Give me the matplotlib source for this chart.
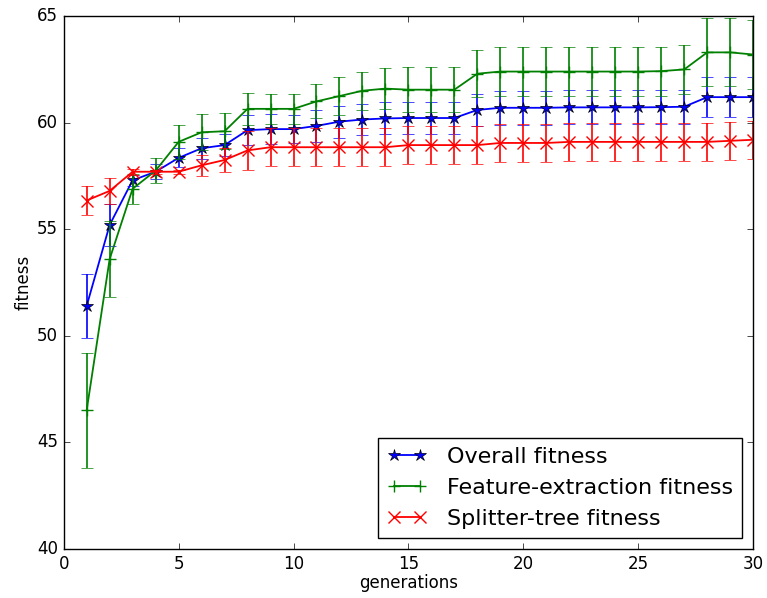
import numpy as np
import matplotlib
matplotlib.use("Agg")
import matplotlib.pyplot as plt

plt.style.use("classic")

gens = np.arange(1, 31)

overall = [51.4, 55.2, 57.3, 57.7, 58.35, 58.8, 58.95, 59.65, 59.7, 59.7,
           59.85, 60.05, 60.15, 60.2, 60.22, 60.22, 60.22, 60.6, 60.7, 60.7,
           60.7, 60.72, 60.72, 60.72, 60.72, 60.73, 60.75, 61.2, 61.2, 61.2]
overall_err = [1.5, 1.0, 0.25, 0.35, 0.45, 0.5, 0.5, 0.7, 0.7, 0.65,
               0.75, 0.75, 0.75, 0.75, 0.75, 0.75, 0.75, 0.75, 0.8, 0.8,
               0.8, 0.8, 0.8, 0.8, 0.8, 0.8, 0.8, 0.95, 0.95, 0.95]

feature = [46.5, 53.6, 56.9, 57.75, 59.1, 59.55, 59.6, 60.65, 60.65, 60.65,
           61.0, 61.25, 61.5, 61.6, 61.55, 61.55, 61.55, 62.3, 62.4, 62.4,
           62.4, 62.4, 62.4, 62.4, 62.4, 62.42, 62.5, 63.3, 63.3, 63.2]
feature_err = [2.7, 1.8, 0.7, 0.6, 0.8, 0.85, 0.85, 0.75, 0.7, 0.7,
               0.8, 0.9, 0.9, 0.95, 1.05, 1.05, 1.05, 1.1, 1.15, 1.15,
               1.15, 1.15, 1.15, 1.15, 1.15, 1.15, 1.15, 1.6, 1.6, 1.6]

splitter = [56.35, 56.8, 57.7, 57.7, 57.7, 58.0, 58.25, 58.7, 58.85, 58.85,
            58.85, 58.85, 58.85, 58.85, 58.95, 58.95, 58.95, 58.95, 59.05, 59.05,
            59.05, 59.1, 59.1, 59.1, 59.1, 59.1, 59.1, 59.1, 59.15, 59.2]
splitter_err = [0.7, 0.6, 0.15, 0.1, 0.1, 0.5, 0.55, 0.9, 0.9, 0.9,
                0.9, 0.9, 0.9, 0.9, 0.9, 0.9, 0.9, 0.9, 0.9, 0.9,
                0.9, 0.9, 0.9, 0.9, 0.9, 0.9, 0.9, 0.9, 0.9, 0.9]

fig = plt.figure(figsize=(7.67, 5.98), dpi=100, facecolor="white")
ax = fig.add_axes([0.083, 0.082, 0.899, 0.891])

series = [
    (overall, overall_err, "b", "*", "Overall fitness"),
    (feature, feature_err, "g", "+", "Feature-extraction fitness"),
    (splitter, splitter_err, "r", "x", "Splitter-tree fitness"),
]
for vals, err, col, mk, lab in series:
    ax.errorbar(gens, vals, yerr=err, fmt="none", ecolor=col, capsize=4,
                elinewidth=1.2)
    if mk == "*":
        ax.plot(gens, vals, color=col, marker=mk, markersize=9,
                markeredgecolor="k", markerfacecolor=col, lw=1.3, label=lab)
    else:
        ax.plot(gens, vals, color=col, marker=mk, markersize=8,
                markeredgewidth=1.0, lw=1.3, label=lab)

ax.set_xlim(0, 30)
ax.set_ylim(40, 65)
ax.set_xlabel("generations", fontsize=12, labelpad=1)
ax.set_ylabel("fitness", fontsize=12, labelpad=3)
ax.tick_params(labelsize=12)

ax.legend(loc="lower right", fontsize=16, numpoints=2, handlelength=1.8,
          handletextpad=0.9, borderaxespad=0.5)

fig.savefig("out.png", dpi=100, facecolor="white")
